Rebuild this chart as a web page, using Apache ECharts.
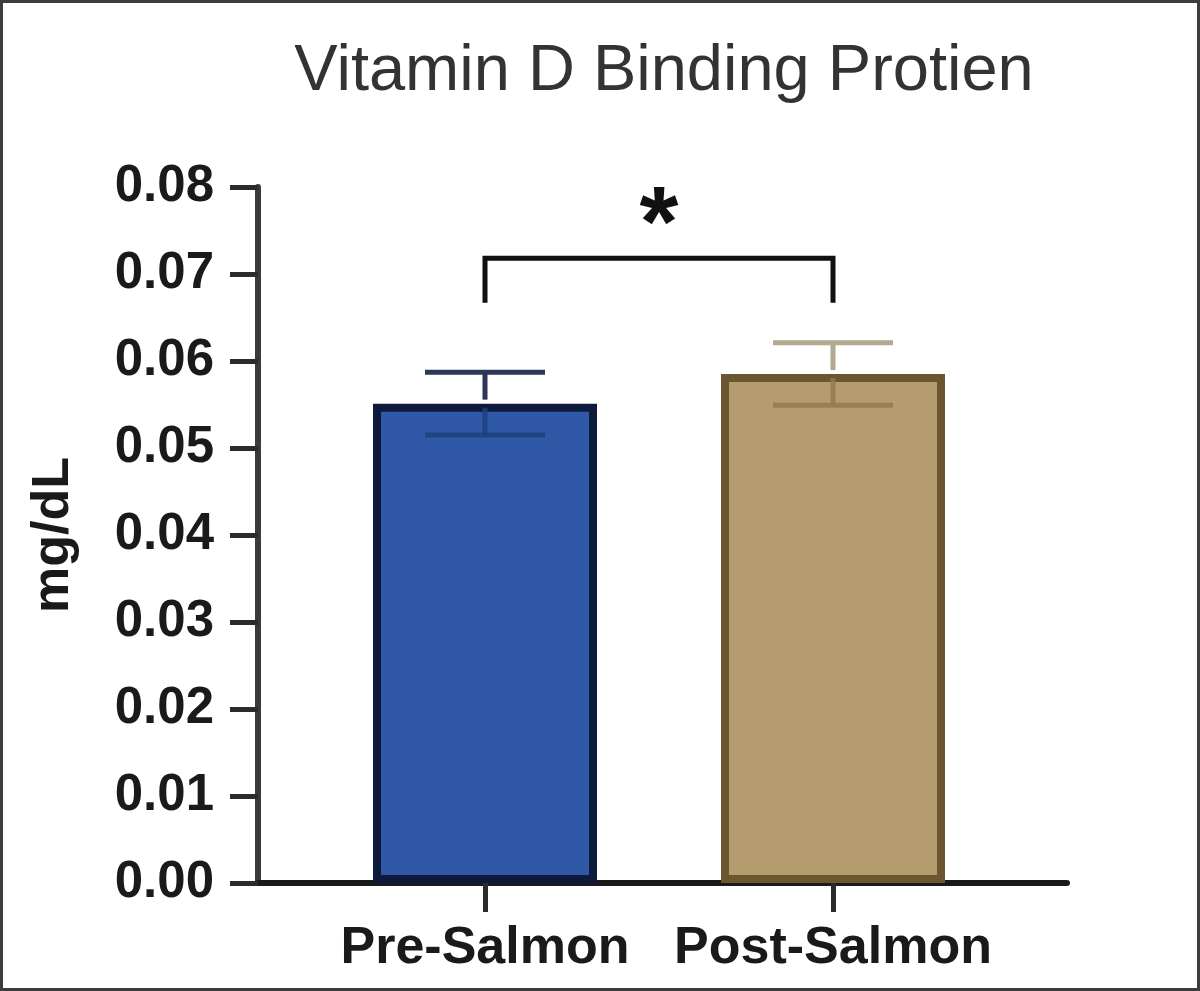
<!DOCTYPE html>
<html lang="en">
<head>
    <meta charset="UTF-8">
    <title>Vitamin D Binding Protien</title>
    <script src="https://cdn.jsdelivr.net/npm/echarts@6.0.0/dist/echarts.min.js"></script>
    <style>
        body { margin: 0; }
        #wrap { position: relative; width: 1200px; height: 991px; }
        #main { width: 1200px; height: 991px; }
        #frame { position: absolute; left: 0; top: 0; width: 1200px; height: 991px;
                 box-sizing: border-box; border: 3px solid #3c3c3c; pointer-events: none; }
    </style>
</head>
<body>
    <div id="wrap">
        <div id="main"></div>
        <div id="frame"></div>
    </div>
    <script>
        // data
        var categories = ['Pre-Salmon', 'Post-Salmon']
        var means = [0.0551, 0.0585]
        var sems = [0.0036, 0.0036]
        var yTicks = [0, 0.01, 0.02, 0.03, 0.04, 0.05, 0.06, 0.07, 0.08]
        // significance bracket: from category 0 to 1, top level, drop level, mark
        var bracket = [0, 1, 0.0718, 0.0667, '*']
        var starLevel = 0.0752

        var fills = ['#2f58a6', '#b59c6e']
        var borders = ['#0e1a3c', '#6c5531']
        var errColors = ['#2a3756', '#b1a990']
        var errInner = ['#1f3f7e', '#93794f']

        var axisColor = '#2b2b2b'
        var font = '"Liberation Sans", Arial, sans-serif'

        var chart = echarts.init(document.getElementById('main'))

        var barData = means.map(function (m, i) {
            return {
                value: [i, m],
                itemStyle: { color: fills[i], borderColor: borders[i], borderWidth: 8 }
            }
        })
        var errData = means.map(function (m, i) { return [i, m, sems[i]] })

        var option = {
            backgroundColor: '#fff',
            animation: false,
            title: {
                text: 'Vitamin D Binding Protien',
                left: 659,
                top: 35,
                textAlign: 'center',
                textStyle: { fontFamily: font, fontSize: 65, fontWeight: 'normal', color: '#333' }
            },
            grid: { left: 258, right: 133, top: 187, bottom: 108 },
            xAxis: {
                type: 'value',
                min: -0.6523,
                max: 1.6724,
                splitLine: { show: false },
                axisLine: { show: true, onZero: false, lineStyle: { color: '#1a1a1a', width: 6 } },
                axisTick: {
                    show: true, customValues: [0, 1], length: 29,
                    lineStyle: { color: axisColor, width: 5 }
                },
                axisLabel: {
                    customValues: [0, 1],
                    margin: 40,
                    fontFamily: font, fontSize: 52, fontWeight: 'bold', color: '#1a1a1a',
                    formatter: function (v) { return categories[Math.round(v)] }
                }
            },
            yAxis: {
                type: 'value',
                min: yTicks[0],
                max: yTicks[yTicks.length - 1],
                interval: 0.01,
                name: 'mg/dL',
                nameLocation: 'middle',
                nameGap: 178,
                nameTextStyle: { fontFamily: font, fontSize: 52, fontWeight: 'bold', color: '#1a1a1a' },
                splitLine: { show: false },
                axisLine: { show: true, onZero: false, lineStyle: { color: '#3a3a3a', width: 6 } },
                axisTick: { show: true, length: 28, lineStyle: { color: axisColor, width: 5 } },
                axisLabel: {
                    margin: 44,
                    fontFamily: font, fontSize: 51, fontWeight: 'bold', color: '#1a1a1a',
                    formatter: function (v) { return v.toFixed(2) }
                }
            },
            series: [
                {
                    type: 'bar',
                    barWidth: 224,
                    data: barData,
                    z: 2
                },
                {
                    // error bars (SEM)
                    type: 'custom',
                    z: 3,
                    clip: false,
                    data: errData,
                    encode: { x: 0, y: 1 },
                    renderItem: function (params, api) {
                        var i = params.dataIndex
                        var x = api.value(0), m = api.value(1), e = api.value(2)
                        var top = api.coord([x, m + e])
                        var mid = api.coord([x, m])
                        var bot = api.coord([x, m - e])
                        var hw = 60
                        var outer = { stroke: errColors[i], lineWidth: 5 }
                        var inner = { stroke: errInner[i], lineWidth: 5, opacity: 0.85 }
                        return {
                            type: 'group',
                            children: [
                                { type: 'line', shape: { x1: top[0], y1: top[1], x2: mid[0], y2: mid[1] - 4 }, style: outer },
                                { type: 'line', shape: { x1: top[0] - hw, y1: top[1], x2: top[0] + hw, y2: top[1] }, style: outer },
                                { type: 'line', shape: { x1: mid[0], y1: mid[1] + 4, x2: bot[0], y2: bot[1] }, style: inner },
                                { type: 'line', shape: { x1: bot[0] - hw, y1: bot[1], x2: bot[0] + hw, y2: bot[1] }, style: inner }
                            ]
                        }
                    }
                },
                {
                    // significance bracket with asterisk
                    type: 'custom',
                    z: 3,
                    clip: false,
                    data: [bracket],
                    encode: { x: [0, 1], y: [2, 3] },
                    renderItem: function (params, api) {
                        var a = api.coord([api.value(0), api.value(3)])
                        var b = api.coord([api.value(0), api.value(2)])
                        var c = api.coord([api.value(1), api.value(2)])
                        var d = api.coord([api.value(1), api.value(3)])
                        var s = api.coord([(api.value(0) + api.value(1)) / 2, starLevel])
                        return {
                            type: 'group',
                            children: [
                                {
                                    type: 'polyline',
                                    shape: { points: [a, b, c, d] },
                                    style: { stroke: '#111', lineWidth: 5, fill: null }
                                },
                                {
                                    type: 'text',
                                    x: s[0], y: s[1],
                                    style: {
                                        text: bracket[4], fontFamily: font, fontSize: 100, fontWeight: 'bold',
                                        fill: '#111', align: 'center', verticalAlign: 'middle'
                                    }
                                }
                            ]
                        }
                    }
                }
            ]
        }
        chart.setOption(option)
    </script>
</body>
</html>
